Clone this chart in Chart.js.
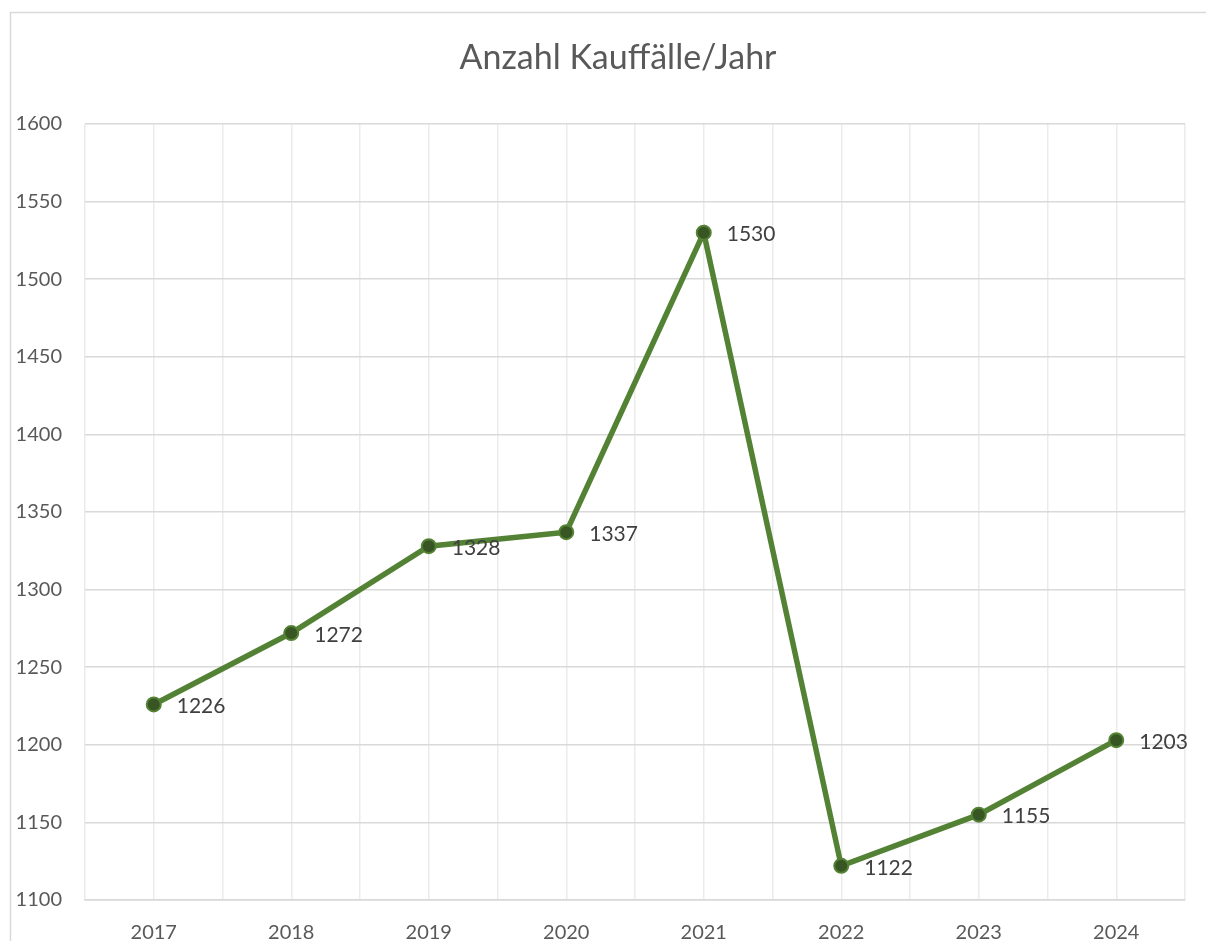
<!DOCTYPE html>
<html>
<head>
<meta charset="utf-8">
<script src="https://cdn.jsdelivr.net/npm/chart.js@4/dist/chart.umd.min.js"></script>
<style>
    html, body { margin: 0; padding: 0; background: #fff; overflow: hidden; }
    #wrap { width: 1206px; height: 941px; position: relative; }
</style>
</head>
<body>
<div id="wrap"><canvas id="salesChart"></canvas></div>
<script>
// Anzahl Kauffälle pro Jahr
const years = [2017, 2018, 2019, 2020, 2021, 2022, 2023, 2024];
const cases = [1226, 1272, 1328, 1337, 1530, 1122, 1155, 1203];
const yMin = 1100, yMax = 1600, yStep = 50;
const chartTitle = 'Anzahl Kauffälle/Jahr';

// Excel-like frame + title (the Excel chart object is wider than the crop)
const framePlugin = {
    id: 'frame',
    beforeDraw(chart) {
        const ctx = chart.ctx;
        ctx.save();
        ctx.strokeStyle = '#d9d9d9';
        ctx.lineWidth = 1.5;
        ctx.beginPath();
        ctx.moveTo(10.5, chart.height + 5);
        ctx.lineTo(10.5, 12.5);
        ctx.lineTo(chart.width + 5, 12.5);
        ctx.stroke();

        ctx.font = '34px Lato, "Open Sans", sans-serif';
        ctx.fillStyle = '#595959';
        ctx.textAlign = 'center';
        ctx.textBaseline = 'middle';
        ctx.fillText(chartTitle, 618, 58);
        ctx.restore();
    }
};

// values to the right of each point
const valueLabels = {
    id: 'valueLabels',
    afterDatasetsDraw(chart) {
        const ctx = chart.ctx;
        const meta = chart.getDatasetMeta(0);
        ctx.save();
        ctx.font = '21px Lato, "Open Sans", sans-serif';
        ctx.fillStyle = '#404040';
        ctx.textAlign = 'left';
        ctx.textBaseline = 'middle';
        meta.data.forEach((pt, i) => {
            ctx.fillText(String(cases[i]), pt.x + 23, pt.y + 2);
        });
        ctx.restore();
    }
};

new Chart(document.getElementById('salesChart'), {
    type: 'line',
    data: {
        datasets: [{
            data: years.map((y, i) => ({ x: y, y: cases[i] })),
            borderColor: '#548235',
            borderWidth: 5.5,
            pointRadius: 7,
            pointBackgroundColor: '#375623',
            pointBorderColor: '#548235',
            pointBorderWidth: 2,
            tension: 0
        }]
    },
    options: {
        responsive: true,
        maintainAspectRatio: false,
        animation: false,
        layout: { padding: { left: 0, right: 17, top: 124, bottom: 0 } },
        plugins: {
            legend: { display: false },
            tooltip: { enabled: false },
            title: { display: false }
        },
        scales: {
            x: {
                type: 'linear',
                min: 2016.5,
                max: 2024.5,
                afterFit(scale) { scale.height = 41; },
                ticks: {
                    stepSize: 0.5,
                    maxTicksLimit: 30,
                    autoSkip: false,
                    maxRotation: 0,
                    padding: 21,
                    color: '#595959',
                    font: { family: 'Lato, "Open Sans", sans-serif', size: 20 },
                    callback: v => Number.isInteger(v) ? String(v) : ''
                },
                grid: { color: '#ebebeb', lineWidth: 1.5, drawTicks: false },
                border: { color: '#d9d9d9', width: 1.5 }
            },
            y: {
                min: yMin,
                max: yMax,
                afterFit(scale) { scale.width = 85; },
                ticks: {
                    stepSize: yStep,
                    padding: 23,
                    color: '#595959',
                    font: { family: 'Lato, "Open Sans", sans-serif', size: 20 },
                    callback: v => String(v)
                },
                grid: { color: '#d9d9d9', lineWidth: 1.5, drawTicks: false },
                border: { display: false }
            }
        }
    },
    plugins: [framePlugin, valueLabels]
});
</script>
</body>
</html>
